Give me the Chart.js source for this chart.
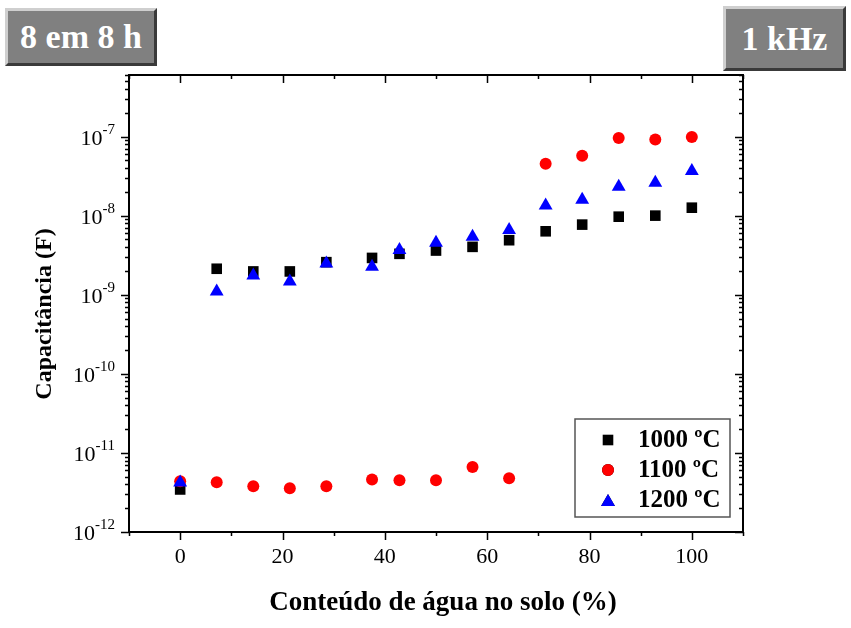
<!DOCTYPE html>
<html lang="pt">
<head>
    <meta charset="UTF-8">
    <title>Capacitância - 8 em 8 h - 1 kHz</title>
    <script src="https://cdn.jsdelivr.net/npm/chart.js"></script>
    <style>
        body {
            margin: 0;
            background: #fff;
        }

        .wrap {
            position: relative;
            width: 851px;
            height: 628px;
        }

        .tag {
            position: absolute;
            box-sizing: border-box;
            background: #808080;
            color: #fff;
            font-family: "Liberation Serif", serif;
            font-weight: bold;
            font-size: 34px;
            display: flex;
            align-items: center;
            justify-content: center;
            border-style: solid;
            border-width: 3px;
            border-color: #cfcfcf #3a3a3a #3a3a3a #cfcfcf;
        }
    </style>
</head>
<body>
<div class="wrap">
    <canvas id="capChart"></canvas>
    <div class="tag" style="left:5px; top:8px; width:152px; height:58px;">8 em 8 h</div>
    <div class="tag" style="left:723px; top:6px; width:123px; height:65px;">1 kHz</div>
</div>

<script>
    // conteúdo de água (%)
    const agua = [0, 7.14, 14.29, 21.43, 28.57, 37.5, 42.86, 50, 57.14, 64.29, 71.43, 78.57, 85.71, 92.86, 100];
    // capacitância (F)
    const cap1000 = [3.45e-12, 2.13e-9, 1.97e-9, 1.97e-9, 2.58e-9, 2.92e-9, 3.29e-9, 3.62e-9, 4.03e-9, 4.89e-9, 6.34e-9, 7.7e-9, 9.7e-9, 1.0e-8, 1.26e-8];
    const cap1100 = [4.38e-12, 4.26e-12, 3.79e-12, 3.57e-12, 3.79e-12, 4.6e-12, 4.5e-12, 4.5e-12, 6.65e-12, 4.78e-12, 4.53e-8, 5.71e-8, 9.6e-8, 9.2e-8, 9.9e-8];
    const cap1200 = [4.24e-12, 1.10e-9, 1.75e-9, 1.47e-9, 2.48e-9, 2.25e-9, 3.69e-9, 4.53e-9, 5.42e-9, 6.6e-9, 1.34e-8, 1.59e-8, 2.32e-8, 2.6e-8, 3.66e-8];
    const serieLabels = ["1000 ºC", "1100 ºC", "1200 ºC"];
    const xTicks = [0, 20, 40, 60, 80, 100];
    const yDecades = [-12, -11, -10, -9, -8, -7];

    const serif = '"Liberation Serif", "Times New Roman", serif';
    const pts = arr => arr.map((v, i) => ({x: agua[i], y: v}));

    const frameAndTicks = {
        id: 'frameAndTicks',
        beforeDatasetsDraw(chart) {
            const ctx = chart.ctx;
            const a = chart.chartArea;
            const xs = chart.scales.x, ys = chart.scales.y;
            ctx.save();
            ctx.strokeStyle = '#000';
            ctx.lineWidth = 1.5;
            ctx.beginPath();
            // x ticks every 10, long at every 20
            for (let v = -10; v <= 110; v += 10) {
                const px = Math.round(xs.getPixelForValue(v)) + 0.5;
                const len = v % 20 === 0 ? 8 : 4;
                ctx.moveTo(px, a.bottom); ctx.lineTo(px, a.bottom + len);
                ctx.moveTo(px, a.top); ctx.lineTo(px, a.top + len);
            }
            // y ticks (log)
            yDecades.forEach(e => {
                for (let k = 1; k <= 9; k++) {
                    const v = k * Math.pow(10, e);
                    if (v > ys.max * 1.0001) break;
                    const py = Math.round(ys.getPixelForValue(v)) + 0.5;
                    const len = k === 1 ? 8 : 4;
                    ctx.moveTo(a.left, py); ctx.lineTo(a.left - len, py);
                    ctx.moveTo(a.right, py); ctx.lineTo(a.right - len, py);
                }
            });
            ctx.stroke();

            ctx.lineWidth = 2;
            ctx.strokeRect(a.left, a.top, a.right - a.left, a.bottom - a.top);

            // x labels
            ctx.fillStyle = '#000';
            ctx.font = '22px ' + serif;
            ctx.textAlign = 'center';
            ctx.textBaseline = 'middle';
            xTicks.forEach(v => ctx.fillText(String(v), xs.getPixelForValue(v), a.bottom + 25));

            // y labels 10^n
            yDecades.forEach(e => {
                const py = ys.getPixelForValue(Math.pow(10, e));
                ctx.font = '15px ' + serif;
                const sup = String(e);
                const supW = ctx.measureText(sup).width;
                ctx.textAlign = 'left';
                ctx.textBaseline = 'alphabetic';
                const right = a.left - 14;
                ctx.fillText(sup, right - supW, py - 3);
                ctx.font = '22px ' + serif;
                ctx.textAlign = 'right';
                ctx.fillText('10', right - supW, py + 8);
            });

            // axis titles
            ctx.font = 'bold 27px ' + serif;
            ctx.textAlign = 'center';
            ctx.textBaseline = 'middle';
            ctx.fillText('Conteúdo de água no solo (%)', 443, 603);
            ctx.font = 'bold 24px ' + serif;
            ctx.translate(45, 314);
            ctx.rotate(-Math.PI / 2);
            ctx.fillText('Capacitância (F)', 0, 0);
            ctx.restore();
        },
        afterDraw(chart) {
            // legend box
            const ctx = chart.ctx;
            ctx.save();
            ctx.fillStyle = '#fff';
            ctx.fillRect(575, 419, 155, 98);
            ctx.strokeStyle = '#555';
            ctx.lineWidth = 1.5;
            ctx.strokeRect(575, 419, 155, 98);
            const rows = [440, 470, 500];
            chart.data.datasets.forEach((ds, i) => {
                Chart.helpers.drawPoint(ctx, {
                    pointStyle: ds.pointStyle,
                    radius: ds.pointRadius,
                    borderWidth: 0
                }, 608, rows[i] + (ds.pointStyle === 'triangle' ? 2 : 0));
                ctx.fillStyle = ds.backgroundColor;
                ctx.fill();
                ctx.fillStyle = '#000';
                ctx.font = 'bold 25px ' + serif;
                ctx.textAlign = 'left';
                ctx.textBaseline = 'middle';
                ctx.fillText(serieLabels[i], 638, rows[i] + 1);
            });
            ctx.restore();
        }
    };

    new Chart(document.getElementById('capChart'), {
        type: 'scatter',
        data: {
            datasets: [
                {
                    label: serieLabels[0],
                    data: pts(cap1000),
                    pointStyle: 'rect',
                    pointRadius: 7.5,
                    backgroundColor: '#000000',
                    borderColor: '#000000',
                    borderWidth: 0,
                    order: 3
                },
                {
                    label: serieLabels[1],
                    data: pts(cap1100),
                    pointStyle: 'circle',
                    pointRadius: 6,
                    backgroundColor: '#ff0000',
                    borderColor: '#ff0000',
                    borderWidth: 0,
                    order: 2
                },
                {
                    label: serieLabels[2],
                    data: pts(cap1200),
                    pointStyle: 'triangle',
                    pointRadius: 8,
                    backgroundColor: '#0000ff',
                    borderColor: '#0000ff',
                    borderWidth: 0,
                    order: 1
                }
            ]
        },
        options: {
            responsive: true,
            maintainAspectRatio: false,
            animation: false,
            layout: {
                padding: {top: 75, right: 108, left: 0, bottom: 0}
            },
            plugins: {
                legend: {display: false},
                tooltip: {enabled: false}
            },
            scales: {
                x: {
                    type: 'linear',
                    min: -10,
                    max: 110,
                    ticks: {display: false},
                    grid: {display: false},
                    border: {display: false},
                    afterFit: s => { s.height = 96; }
                },
                y: {
                    type: 'logarithmic',
                    min: 1e-12,
                    max: 6e-7,
                    ticks: {display: false},
                    grid: {display: false},
                    border: {display: false},
                    afterFit: s => { s.width = 129; }
                }
            }
        },
        plugins: [frameAndTicks]
    });
</script>
</body>
</html>
